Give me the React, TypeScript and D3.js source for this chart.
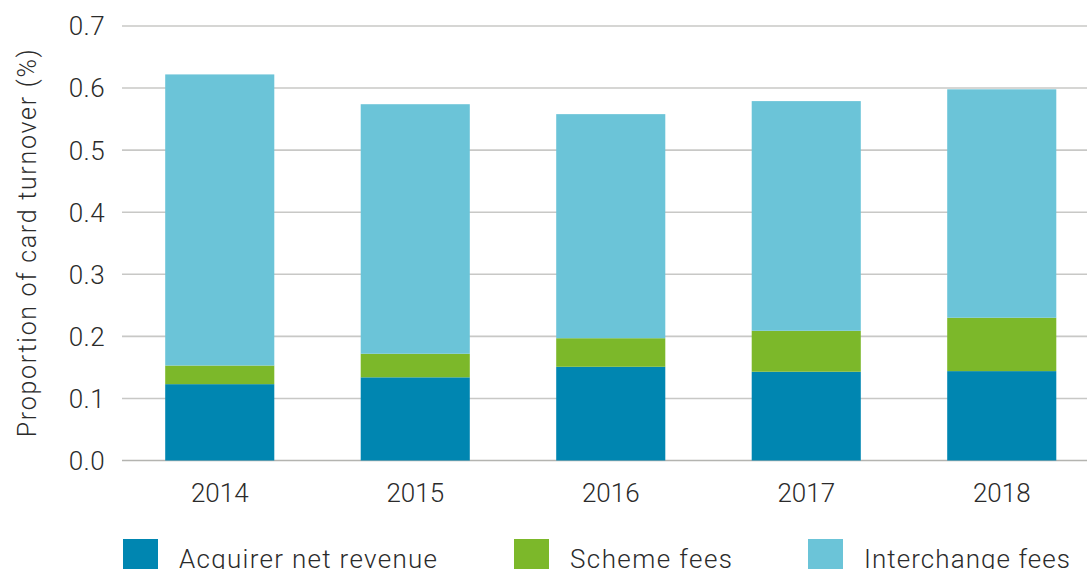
import * as d3 from 'd3'

const WIDTH = 1087
const HEIGHT = 569

const YEARS = ['2014', '2015', '2016', '2017', '2018']
const ACQUIRER = [0.123, 0.134, 0.151, 0.143, 0.144]
const SCHEME = [0.030, 0.038, 0.046, 0.066, 0.086]
const INTERCHANGE = [0.469, 0.402, 0.361, 0.370, 0.368]
const Y_TICKS = [0, 0.1, 0.2, 0.3, 0.4, 0.5, 0.6, 0.7]

const SERIES = [
  { name: 'Acquirer net revenue', values: ACQUIRER, color: '#0086b1' },
  { name: 'Scheme fees', values: SCHEME, color: '#7cb82a' },
  { name: 'Interchange fees', values: INTERCHANGE, color: '#6bc4d8' },
]

const FONT = 'Roboto, "Liberation Sans", sans-serif'
const TEXT_COLOR = '#2b2b2b'
const FS = 26

export default function App() {
  const left = 122
  const right = 1099.5
  const top = 26
  const bottom = 460.5

  const x = d3.scaleBand().domain(YEARS).range([left, right]).paddingInner(0.442).paddingOuter(0.221)
  const y = d3.scaleLinear().domain([0, 0.7]).range([bottom, top])

  const rows = YEARS.map((year, i) => {
    const row: Record<string, number | string> = { year }
    SERIES.forEach((s) => (row[s.name] = s.values[i]))
    return row
  })
  const stacked = d3.stack<any>().keys(SERIES.map((s) => s.name))(rows)

  // legend positions / text widths
  const legendX = [123, 514, 808]
  const legendLen = [258, 162, 206]

  return (
    <svg
      width={WIDTH}
      height={HEIGHT}
      style={{ position: 'absolute', left: 0, top: 0, background: '#fff' }}
      fontFamily={FONT}
    >
      {Y_TICKS.map((t) => (
        <g key={t}>
          <line
            x1={left}
            x2={WIDTH}
            y1={y(t)}
            y2={y(t)}
            stroke={t === 0 ? '#b4b4b0' : '#c8c8c6'}
            strokeWidth={1.6}
          />
          <text
            x={105}
            y={y(t)}
            dy="0.36em"
            textAnchor="end"
            fontSize={FS}
            fontWeight={300}
            letterSpacing={0.4}
            fill={TEXT_COLOR}
          >
            {t.toFixed(1)}
          </text>
        </g>
      ))}

      {stacked.map((layer, si) => (
        <g key={layer.key} fill={SERIES[si].color}>
          {layer.map((d, i) => (
            <rect
              key={YEARS[i]}
              x={x(YEARS[i])}
              width={x.bandwidth()}
              y={y(d[1])}
              height={y(d[0]) - y(d[1])}
            />
          ))}
        </g>
      ))}

      {YEARS.map((year) => (
        <text
          key={year}
          x={(x(year) ?? 0) + x.bandwidth() / 2}
          y={502}
          textAnchor="middle"
          fontSize={FS}
          fontWeight={300}
          fill={TEXT_COLOR}
        >
          {year}
        </text>
      ))}

      <text
        transform={`translate(36,${(top + bottom) / 2}) rotate(-90)`}
        textAnchor="middle"
        fontSize={25}
        fontWeight={300}
        textLength={388}
        lengthAdjust="spacing"
        fill={TEXT_COLOR}
      >
        Proportion of card turnover (%)
      </text>

      {SERIES.map((s, i) => (
        <g key={s.name} transform={`translate(${legendX[i]},539)`}>
          <rect width={35} height={32} fill={s.color} />
          <text
            x={56}
            y={29}
            fontSize={FS}
            fontWeight={300}
            textLength={legendLen[i]}
            lengthAdjust="spacing"
            fill={TEXT_COLOR}
          >
            {s.name}
          </text>
        </g>
      ))}
    </svg>
  )
}
